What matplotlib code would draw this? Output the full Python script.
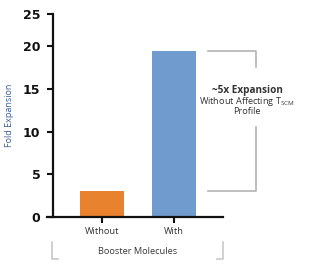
import matplotlib.pyplot as plt
import matplotlib.transforms as mtransforms

categories = ['Without', 'With']
fold_expansion = [3.1, 19.5]
bar_colors = ['#E9822F', '#6F9BCE']
ytick_values = [0, 5, 10, 15, 20]
ytick_labels = ['0', '5', '10', '15', '20', '25']

plt.rcParams['font.family'] = ['Open Sans', 'DejaVu Sans']

fig = plt.figure(figsize=(3.12, 2.64), dpi=100)
ax = fig.add_axes([47/312, 47/264, 176/312, 203/264])

x = range(len(categories))
ax.bar(x, fold_expansion, width=0.61, color=bar_colors, zorder=2)

ymax = 23.8
ax.set_xlim(-0.77, 1.68)
ax.set_ylim(0, ymax)
ax.spines['left'].set_position(('data', -0.68))
ax.spines['top'].set_visible(False)
ax.spines['right'].set_visible(False)
for s in ['left', 'bottom']:
    ax.spines[s].set_linewidth(1.6)
    ax.spines[s].set_color('#111111')

ax.set_yticks(ytick_values + [ymax])
ax.set_yticklabels(ytick_labels, fontweight='bold', fontsize=9,
                   family='DejaVu Sans', color='#111111')
ax.set_xticks(list(x))
ax.set_xticklabels(categories, fontsize=6.7, color='#333333')
ax.tick_params(axis='y', length=4.5, width=1.5, pad=5, color='#111111')
ax.tick_params(axis='x', length=4, width=1.5, pad=3, color='#111111')
ax.set_ylabel('Fold Expansion', fontsize=6.5, color='#3d5a8c', labelpad=6)

# bottom bracket: Booster Molecules
gray = '#c8c8c8'
tr = mtransforms.blended_transform_factory(ax.transData, ax.transAxes)
bx0, bx1 = -0.70, 1.68
ax.plot([bx0, bx0, bx0 + 0.09], [-0.123, -0.205, -0.205], color=gray, lw=1.2,
        transform=tr, clip_on=False)
ax.plot([bx1 - 0.09, bx1, bx1], [-0.205, -0.205, -0.123], color=gray, lw=1.2,
        transform=tr, clip_on=False)
ax.text((bx0 + bx1) / 2, -0.172, 'Booster Molecules', transform=tr,
        ha='center', va='center', fontsize=6.7, color='#3a3a3a')

# right bracket between bar tops
lo, hi = fold_expansion
rgray = '#b4b4b4'
rx0, rx1 = 1.47, 2.14
ax.plot([rx0, rx1, rx1], [hi, hi, 17.6], color=rgray, lw=1.2, clip_on=False)
ax.plot([rx1, rx1, rx0], [10.5, lo, lo], color=rgray, lw=1.2, clip_on=False)
ax.text(2.015, 14.8, '~5x Expansion', ha='center', va='center',
        fontsize=7.2, fontweight='bold', color='#333333', clip_on=False)
ax.text(2.015, 13.5, r'Without Affecting T$_{\mathregular{SCM}}$', ha='center',
        va='center', fontsize=6.6, color='#333333', clip_on=False)
ax.text(2.015, 12.35, 'Profile', ha='center', va='center',
        fontsize=6.6, color='#333333', clip_on=False)

fig.savefig('out.png', dpi=100)
